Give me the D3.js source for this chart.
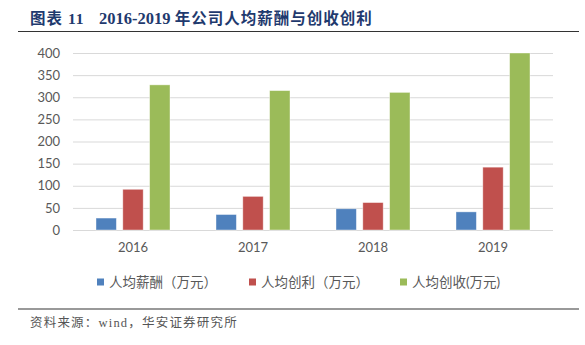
<!DOCTYPE html>
<html>
<head>
<meta charset="utf-8">
<script src="https://cdn.jsdelivr.net/npm/d3@7"></script>
<style>
  html, body { margin: 0; padding: 0; background: #fff; }
  svg { display: block; }
</style>
</head>
<body>
<svg id="chart" width="585" height="345"></svg>
<script>
// Chart data
const years = ["2016", "2017", "2018", "2019"];
const seriesNames = ["人均薪酬（万元）", "人均创利（万元）", "人均创收(万元)"];
const salary = [27, 35, 48, 41];
const profit = [92, 76, 62, 142];
const revenue = [328, 315, 311, 400];
const yTicks = [0, 50, 100, 150, 200, 250, 300, 350, 400];
const colors = ["#4f81bd", "#c0504d", "#9bbb59"];

const seriesValues = [salary, profit, revenue];
const svg = d3.select("#chart");

// Title and rules
const title = svg.append("text")
  .attr("y", 24)
  .attr("font-family", "'Liberation Serif', 'Noto Sans CJK SC', serif")
  .attr("font-weight", "bold").attr("font-size", 15.5)
  .attr("fill", "#1f3a6e");
title.append("tspan").attr("x", 30).attr("letter-spacing", 1).text("图表 11");
title.append("tspan").attr("x", 99).attr("font-size", 16.5).text("2016-2019 ");
title.append("tspan").attr("letter-spacing", 1).text("年公司人均薪酬与创收创利");

svg.append("line").attr("x1", 18).attr("x2", 579).attr("y1", 31.5).attr("y2", 31.5)
  .attr("stroke", "#333").attr("stroke-width", 1.2);

svg.append("line").attr("x1", 18).attr("x2", 579).attr("y1", 309).attr("y2", 309)
  .attr("stroke", "#777").attr("stroke-width", 1.5);

svg.append("text")
  .attr("x", 30).attr("y", 327)
  .attr("font-family", "'Liberation Serif', 'Noto Sans CJK SC', serif")
  .attr("font-size", 12.5).attr("fill", "#555").attr("letter-spacing", 1.2)
  .text("资料来源：wind，华安证券研究所");

// Scales
const x = d3.scaleBand().domain(years).range([73, 553]);
const y = d3.scaleLinear().domain([0, 400]).range([230, 53]);
const inner = d3.scaleBand().domain(d3.range(3)).range([0, 74]).paddingInner(0.24);

// Gridlines and y axis
const yAxis = d3.axisLeft(y).tickValues(yTicks).tickSize(-480).tickPadding(13);
const gy = svg.append("g").attr("transform", "translate(73,0)").call(yAxis);
gy.select(".domain").remove();
gy.selectAll(".tick line").attr("stroke", "#d9d9d9").attr("stroke-width", 1);
gy.selectAll(".tick text")
  .attr("font-family", "Lato, 'Liberation Sans', sans-serif")
  .attr("font-size", 13).attr("fill", "#595959");

// x axis labels
const xAxis = d3.axisBottom(x).tickSize(0).tickPadding(13);
const gx = svg.append("g").attr("transform", "translate(0,230)").call(xAxis);
gx.select(".domain").remove();
gx.selectAll(".tick text")
  .attr("font-family", "Lato, 'Liberation Sans', sans-serif")
  .attr("font-size", 13).attr("fill", "#595959");

// Bars
seriesValues.forEach((vals, si) => {
  svg.append("g").selectAll("rect").data(vals).join("rect")
    .attr("x", (d, i) => x(years[i]) + x.bandwidth() / 2 - 37 + inner(si))
    .attr("width", inner.bandwidth())
    .attr("y", d => y(d))
    .attr("height", d => y(0) - y(d))
    .attr("fill", colors[si])
    .attr("stroke", "#fff").attr("stroke-opacity", 0.5).attr("stroke-width", 0.8);
});

// Legend
const legendX = [97, 249, 400];
const lg = svg.append("g");
seriesNames.forEach((name, i) => {
  lg.append("rect").attr("x", legendX[i]).attr("y", 278.5).attr("width", 7).attr("height", 7)
    .attr("fill", colors[i]);
  lg.append("text").attr("x", legendX[i] + 12).attr("y", 287)
    .attr("font-family", "Lato, 'Noto Sans CJK SC', sans-serif")
    .attr("font-size", 13.5).attr("fill", "#595959")
    .text(name);
});
</script>
</body>
</html>
